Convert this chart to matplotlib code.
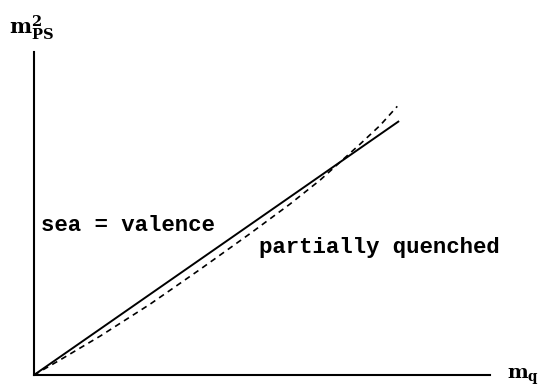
import matplotlib
matplotlib.use("Agg")
import matplotlib.pyplot as plt

# Data (units: solid line reaches 1.0 at x = 1.0)
sea_valence_x = [0.0, 1.0]
sea_valence_y = [0.0, 1.0]

pq_x = [0.0, 0.071, 0.181, 0.318, 0.455, 0.592, 0.701, 0.784, 0.838, 0.893, 0.948, 0.995]
pq_y = [0.0, 0.059, 0.153, 0.279, 0.416, 0.557, 0.673, 0.768, 0.838, 0.909, 0.983, 1.058]

x_max = 1.249
y_max = 1.272

plt.rcParams['mathtext.fontset'] = 'dejavuserif'

W, H = 544, 388
fig = plt.figure(figsize=(W / 100, H / 100), dpi=100)
ax = fig.add_axes([34 / W, (H - 375) / H, 456 / W, 323 / H])
ax.set_xlim(0, x_max)
ax.set_ylim(0, y_max)
for s in ['top', 'right']:
    ax.spines[s].set_visible(False)
for s in ['left', 'bottom']:
    ax.spines[s].set_linewidth(1.5)
    ax.spines[s].set_color('black')
ax.set_xticks([])
ax.set_yticks([])

ax.plot(sea_valence_x, sea_valence_y, color='black', lw=1.4, clip_on=False,
        solid_capstyle='butt')
ax.plot(pq_x, pq_y, color='black', lw=1.2, dashes=(3.5, 2.8), clip_on=False)

def ftext(px, py, s, **kw):
    fig.text(px / W, 1 - py / H, s, **kw)

mono = dict(family='Liberation Mono', fontsize=16.1, weight='bold', color='black')
ftext(41, 231, 'sea = valence', va='baseline', ha='left', **mono)
ftext(259, 253, 'partially quenched', va='baseline', ha='left', **mono)

ftext(9, 34, r'$\mathbf{m}_{\mathbf{PS}}^{\mathbf{2}}$', va='baseline', ha='left',
      fontsize=15, color='black')
ftext(507, 379, r'$\mathbf{m}_{\mathbf{q}}$', va='baseline', ha='left',
      fontsize=14, color='black')

fig.savefig('out.png', dpi=100)
